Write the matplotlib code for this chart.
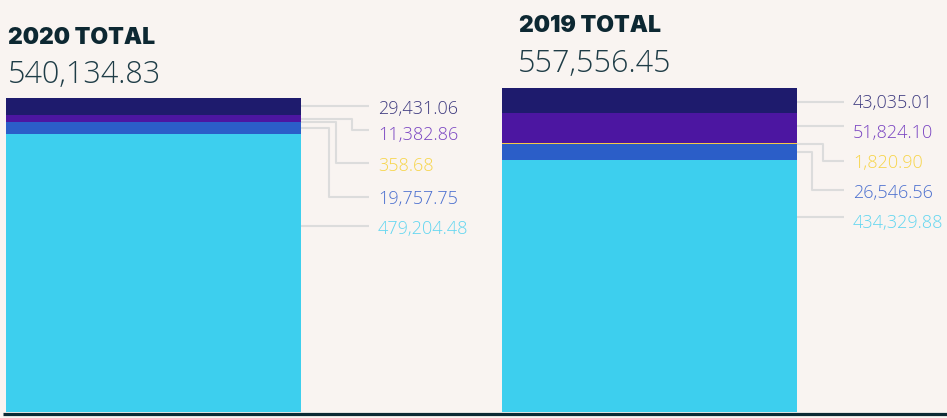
import matplotlib
matplotlib.use('Agg')
import matplotlib.pyplot as plt

# data (bottom -> top of each stack)
years = ['2020', '2019']
totals = [540134.83, 557556.45]
segments = ['cyan', 'blue', 'yellow', 'purple', 'navy']
values_2020 = [479204.48, 19757.75, 358.68, 11382.86, 29431.06]
values_2019 = [434329.88, 26546.56, 1820.90, 51824.10, 43035.01]

bar_colors = ['#3dcfee', '#2b5ec8', '#f6c945', '#4c16a1', '#1e1b6d']
text_colors = ['#62d6f0', '#4b6fcf', '#f7d54a', '#7a45c2', '#3f3b80']
bg = '#f9f4f1'
line_col = '#dcdcdc'

W, H = 947, 418
base_px = 412                       # baseline row in pixels from the top
k = totals[1] / 324.0               # data units per pixel


def py(p):
    # pixel row -> data y
    return (base_px - p) * k


fig = plt.figure(figsize=(W / 100, H / 100), dpi=100, facecolor=bg)
ax = fig.add_axes([0, 0, 1, 1])
ax.set_facecolor(bg)
ax.set_xlim(0, W)
ax.set_ylim(py(H), py(0))
ax.axis('off')

# layout per bar: left edge, label line y (px), elbow x offset, line length, text offset, title pos
layout = [
    dict(x=6, label_y=[226, 197, 163, 130, 106], elbow=[None, 28, 35, 51, None],
         text_y=[227, 197, 164, 133, 107],
         line_len=68, text_off=77, title=(8, 44), total=(8, 83)),
    dict(x=502, label_y=[217, 190, 161, 126, 102], elbow=[None, 15, 26, None, None],
         text_y=[221, 191, 161, 131, 101],
         line_len=47, text_off=56, title=(519, 32), total=(518, 72)),
]
bar_w = 295

for year, total, vals, lay in zip(years, totals, [values_2020, values_2019], layout):
    bottom = 0
    right = lay['x'] + bar_w
    for i, v in enumerate(vals):
        ax.bar(lay['x'], v, width=bar_w, bottom=bottom, color=bar_colors[i], align='edge',
               linewidth=0, zorder=2)
        ly = py(lay['label_y'][i])
        if bottom <= ly <= bottom + v or lay['elbow'][i] is None:
            xs = [right, right + lay['line_len']]
            ys = [ly, ly]
        else:
            mid = bottom + v / 2
            ex = right + lay['elbow'][i]
            xs = [right, ex, ex, right + lay['line_len']]
            ys = [mid, mid, ly, ly]
        ax.plot(xs, ys, color=line_col, lw=1.5, zorder=1, solid_capstyle='butt')
        # baseline sits ~6.5px below the digit centre
        ax.text(right + lay['text_off'], py(lay['text_y'][i] + 6.5), f'{v:,.2f}',
                color=text_colors[i], family='Open Sans', weight='light', size=13,
                va='baseline', ha='left')
        bottom += v

    tx, ty = lay['title']
    ax.text(tx, py(ty), f'{year} TOTAL', family='Inter', weight='black', size=16.5,
            color='#0d2832', va='baseline', ha='left')
    nx, nyy = lay['total']
    ax.text(nx, py(nyy), f'{total:,.2f}', family='Open Sans', weight='light', size=22,
            color='#1f3d47', va='baseline', ha='left')

# baseline
ax.plot([3, W], [py(413.5), py(413.5)], color='#0b2a33', lw=2.3, solid_capstyle='butt', zorder=3)

fig.savefig('out.png', dpi=100, facecolor=bg)
